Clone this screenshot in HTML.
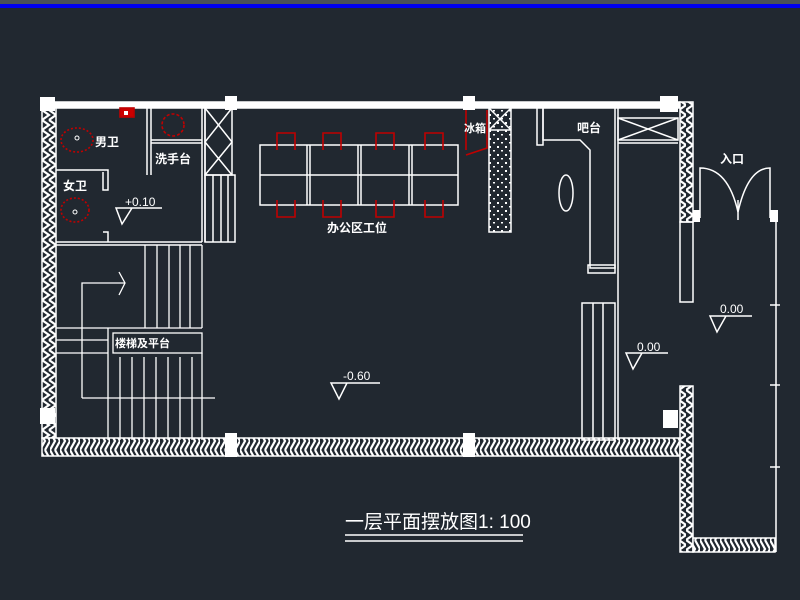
<!DOCTYPE html>
<html><head><meta charset="utf-8"><style>
html,body{margin:0;padding:0;background:#212830;}
svg{display:block}
text{font-family:"Liberation Sans","Noto Sans CJK SC",sans-serif;fill:#fff}
</style></head><body>
<svg width="800" height="600" viewBox="0 0 800 600" xmlns="http://www.w3.org/2000/svg">
<defs>
<pattern id="hv" width="14" height="10" patternUnits="userSpaceOnUse">
<rect width="14" height="10" fill="#212830"/>
<path d="M0,0 L7,5 L0,10 M7,0 L14,5 L7,10" stroke="#fff" stroke-width="2.2" fill="none"/>
</pattern>
<pattern id="hh" width="10" height="18" patternUnits="userSpaceOnUse">
<rect width="10" height="18" fill="#212830"/>
<path d="M0,0 L5,9 L0,18 M5,0 L10,9 L5,18" stroke="#fff" stroke-width="2.2" fill="none"/>
</pattern>
<pattern id="dots" width="8" height="8" patternUnits="userSpaceOnUse">
<rect width="8" height="8" fill="#212830"/>
<rect x="1" y="2" width="2" height="2" fill="#fff"/><rect x="5" y="6" width="2" height="1.5" fill="#fff"/>
</pattern>
</defs>
<rect width="800" height="600" fill="#212830"/>
<rect x="0" y="0" width="800" height="4" fill="#4a5058"/>
<rect x="0" y="4" width="800" height="4" fill="#0000ee"/>

<g stroke="#fff" stroke-width="1.5" fill="none">
<rect x="42" y="102" width="638" height="6" fill="#fff"/>
<rect x="42" y="108" width="14" height="330" fill="url(#hv)"/>
<rect x="42" y="438" width="638" height="18" fill="url(#hh)"/>
<rect x="680" y="102" width="13" height="120" fill="url(#hv)"/>
<rect x="680" y="222" width="13" height="80"/>
<rect x="680" y="386" width="13" height="166" fill="url(#hv)"/>
<rect x="693" y="538" width="82" height="14" fill="url(#hh)"/>
<line x1="776" y1="212" x2="776" y2="552"/>
<line x1="770" y1="305" x2="780" y2="305"/><line x1="770" y1="385" x2="780" y2="385"/><line x1="770" y1="467" x2="780" y2="467"/>
<path d="M700,218 L700,168 Q728,168 738,212 Q748,168 770,168 L770,218"/>
<line x1="738" y1="200" x2="738" y2="220"/>

<line x1="147" y1="108" x2="147" y2="175"/><line x1="151" y1="108" x2="151" y2="175"/>
<line x1="151" y1="140" x2="202" y2="140"/><line x1="151" y1="143" x2="202" y2="143"/>
<line x1="202" y1="108" x2="202" y2="242"/><line x1="205" y1="108" x2="205" y2="242"/>
<rect x="205" y="108" width="27" height="67"/>
<path d="M205,108 L232,142 L205,175 M232,108 L205,142 L232,175"/>
<rect x="205" y="175" width="30" height="67"/>
<line x1="213" y1="175" x2="213" y2="242"/><line x1="221" y1="175" x2="221" y2="242"/><line x1="228" y1="175" x2="228" y2="242"/>
<path d="M56,170 L108,170 L108,190 L103,190 L103,172"/>
<path d="M103,232 L108,232 L108,242"/>
<line x1="56" y1="242" x2="202" y2="242"/><line x1="56" y1="245" x2="202" y2="245"/>

<g stroke-width="1.3">
<line x1="145" y1="245" x2="145" y2="328"/><line x1="157" y1="245" x2="157" y2="328"/><line x1="169" y1="245" x2="169" y2="328"/><line x1="180" y1="245" x2="180" y2="328"/><line x1="190" y1="245" x2="190" y2="328"/><line x1="202" y1="245" x2="202" y2="328"/>
<line x1="56" y1="328" x2="202" y2="328"/><line x1="56" y1="340" x2="108" y2="340"/><line x1="56" y1="353" x2="108" y2="353"/>
<rect x="113" y="333" width="89" height="20"/>
<line x1="108" y1="328" x2="108" y2="440"/><line x1="120" y1="357" x2="120" y2="440"/><line x1="132" y1="357" x2="132" y2="440"/><line x1="144" y1="357" x2="144" y2="440"/><line x1="156" y1="357" x2="156" y2="440"/><line x1="168" y1="357" x2="168" y2="440"/><line x1="180" y1="357" x2="180" y2="440"/><line x1="192" y1="357" x2="192" y2="440"/><line x1="202" y1="353" x2="202" y2="440"/>
<path d="M82,398 L82,283 L125,283 M119,272 L125,283 L119,295"/>
<line x1="82" y1="398" x2="215" y2="398"/>
</g>

<rect x="260" y="145" width="198" height="60"/>
<line x1="260" y1="175" x2="458" y2="175"/>
<line x1="307" y1="145" x2="307" y2="205"/><line x1="310" y1="145" x2="310" y2="205"/>
<line x1="358" y1="145" x2="358" y2="205"/><line x1="361" y1="145" x2="361" y2="205"/>
<line x1="409" y1="145" x2="409" y2="205"/><line x1="412" y1="145" x2="412" y2="205"/>

<rect x="489" y="108" width="22" height="124" fill="url(#dots)"/>
<path d="M489,108 L511,130 M511,108 L489,130 M489,130 L511,130"/>
<path d="M537,108 L537,145 L543,145 L543,108"/>
<path d="M543,108 L543,140 L580,140 L590,150 L590,268 L615,268 L615,108"/>
<rect x="588" y="265" width="27" height="8"/>
<ellipse cx="566" cy="193" rx="7" ry="18"/>
<line x1="618" y1="108" x2="618" y2="440"/>
<rect x="618" y="118" width="60" height="22"/>
<path d="M618,118 L678,140 M678,118 L618,140"/>
<line x1="618" y1="143" x2="678" y2="143"/>
<rect x="582" y="303" width="33" height="137"/>
<line x1="593" y1="303" x2="593" y2="440"/><line x1="603" y1="303" x2="603" y2="440"/>

<path d="M116,208 L132,208 L122,224 Z M116,208 L162,208"/>
<path d="M626,353 L642,353 L633,369 Z M626,353 L668,353"/>
<path d="M710,316 L726,316 L717,332 Z M710,316 L752,316"/>
<path d="M331,383 L347,383 L339,399 Z M331,383 L380,383"/>
<line x1="345" y1="535" x2="523" y2="535"/><line x1="345" y1="541" x2="523" y2="541"/>
</g>

<g fill="#fff">
<rect x="40" y="97" width="15" height="14"/><rect x="225" y="96" width="12" height="14"/><rect x="463" y="96" width="12" height="14"/><rect x="660" y="96" width="18" height="16"/>
<rect x="40" y="408" width="15" height="16"/><rect x="225" y="433" width="12" height="24"/><rect x="463" y="433" width="12" height="24"/><rect x="663" y="410" width="15" height="18"/>
<rect x="693" y="210" width="7" height="12"/><rect x="770" y="210" width="8" height="12"/>
</g>

<g stroke="#c00000" stroke-width="1.6" fill="none">
<rect x="120" y="108" width="14" height="9" fill="#c00"/>
<circle cx="173" cy="125" r="11" stroke-dasharray="3 2"/>
<ellipse cx="77" cy="140" rx="16" ry="12" stroke-dasharray="2 2"/>
<ellipse cx="75" cy="210" rx="14" ry="12" stroke-dasharray="2 2"/>
<path d="M277,150 L277,133 L295,133 L295,150 M323,150 L323,133 L341,133 L341,150 M376,150 L376,133 L394,133 L394,150 M425,150 L425,133 L443,133 L443,150"/>
<path d="M277,200 L277,217 L295,217 L295,200 M323,200 L323,217 L341,217 L341,200 M376,200 L376,217 L394,217 L394,200 M425,200 L425,217 L443,217 L443,200"/>
<path d="M466,110 L466,150 M487,110 L487,148 L466,155"/>
</g>
<rect x="124" y="111" width="4" height="4" fill="#fff"/>
<circle cx="77" cy="138" r="2" fill="none" stroke="#fff"/>
<circle cx="75" cy="212" r="2" fill="none" stroke="#fff"/>

<g font-size="12" font-weight="bold">
<text x="95" y="146">男卫</text>
<text x="63" y="190">女卫</text>
<text x="155" y="163">洗手台</text>
<text x="115" y="347" font-size="11">楼梯及平台</text>
<text x="327" y="232">办公区工位</text>
<text x="464" y="132" font-size="11">冰箱</text>
<text x="577" y="132">吧台</text>
<text x="720" y="163">入口</text>
</g>
<g font-size="12">
<text x="125" y="206">+0.10</text>
<text x="637" y="351">0.00</text>
<text x="720" y="313">0.00</text>
<text x="343" y="380">-0.60</text>
</g>
<text x="345" y="528" font-size="19">一层平面摆放图1: 100</text>
</svg>
</body></html>
